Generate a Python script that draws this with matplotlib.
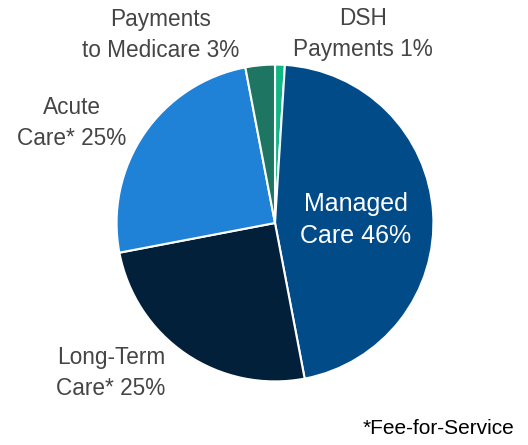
import matplotlib
matplotlib.use("Agg")
import matplotlib.pyplot as plt

plt.rcParams['font.family'] = ['Liberation Sans', 'DejaVu Sans']

categories = ["DSH\nPayments", "Managed\nCare", "Long-Term\nCare*", "Acute\nCare*", "Payments\nto Medicare"]
values = [1, 46, 25, 25, 3]
colors = ["#10b784", "#024b89", "#03203a", "#1f82d7", "#1d7562"]

W, H = 528, 445
fig = plt.figure(figsize=(W / 100, H / 100), dpi=100)
cx, cy, r = 275, 223, 160
ax = fig.add_axes([(cx - r) / W, (H - cy - r) / H, 2 * r / W, 2 * r / H])
ax.pie(values, colors=colors, startangle=90, counterclock=False, radius=1,
       wedgeprops=dict(edgecolor="white", linewidth=1.5))
ax.set_xlim(-1.01, 1.01)
ax.set_ylim(-1.01, 1.01)
ax.set_aspect("equal")
ax.axis("off")

def label(px, py, txt, color="#454545", size=16.3):
    fig.text(px / W, 1 - py / H, txt, ha="center", va="center", color=color,
             fontsize=size, linespacing=1.4, multialignment="center")

pos = {0: (363, 34), 1: (356, 220), 2: (111, 373), 3: (72, 123), 4: (161, 35)}
for i, (c, v) in enumerate(zip(categories, values)):
    txt = f"{c} {v}%"
    if i == 1:
        label(*pos[i], txt, color="white", size=18)
    else:
        label(*pos[i], txt)

fig.text(514 / W, 1 - 429 / H, "*Fee-for-Service", ha="right", va="center",
         color="black", fontsize=15)

fig.savefig("out.png", dpi=100)
